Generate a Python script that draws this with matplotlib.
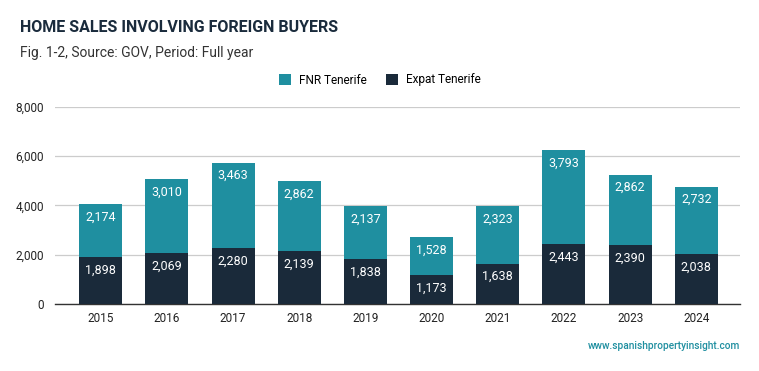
import matplotlib
matplotlib.use("Agg")
import matplotlib.pyplot as plt
import numpy as np
from matplotlib import ticker

years = ["2015", "2016", "2017", "2018", "2019", "2020", "2021", "2022", "2023", "2024"]
expat_tenerife = [1898, 2069, 2280, 2139, 1838, 1173, 1638, 2443, 2390, 2038]
fnr_tenerife = [2174, 3010, 3463, 2862, 2137, 1528, 2323, 3793, 2862, 2732]

TEAL = "#1f8fa0"
NAVY = "#1a2a3a"

plt.rcParams["font.family"] = ["Roboto", "DejaVu Sans"]

fig = plt.figure(figsize=(7.59, 3.71), dpi=100)
ax = fig.add_axes([55 / 759, 67 / 371, 685 / 759, 197 / 371])

x = np.arange(len(years))
w = 0.65
b1 = ax.bar(x, expat_tenerife, w, color=NAVY, label="Expat Tenerife", zorder=3)
b2 = ax.bar(x, fnr_tenerife, w, bottom=expat_tenerife, color=TEAL, label="FNR Tenerife", zorder=3)

for vals, bottoms in ((expat_tenerife, [0] * len(x)), (fnr_tenerife, expat_tenerife)):
    for xi, v, b in zip(x, vals, bottoms):
        ax.annotate(f"{v:,}", (xi, b + v), xytext=(0, -9.4), textcoords="offset points",
                    ha="center", va="center", color="white", fontsize=9, zorder=4)

ax.set_xlim(-0.69, 9.66)
ax.set_ylim(0, 8000)
ax.set_yticks(range(0, 8001, 2000))
ax.yaxis.set_major_formatter(ticker.FuncFormatter(lambda v, _: f"{int(v):,}"))
ax.set_xticks(x)
ax.set_xticklabels(years)
ax.grid(axis="y", color="#cccccc", linewidth=0.9, zorder=0)
for s in ("top", "right", "left"):
    ax.spines[s].set_visible(False)
ax.spines["bottom"].set_color("#333333")
ax.spines["bottom"].set_linewidth(1.0)
ax.tick_params(axis="both", length=0, labelsize=8.5, colors="#222222")
ax.tick_params(axis="y", pad=8)
ax.tick_params(axis="x", pad=6)

fig.text(20 / 759, 1 - 28 / 371, "HOME SALES INVOLVING FOREIGN BUYERS", fontsize=11.5, fontweight="bold",
         color="#1a2b3c", va="center")
fig.text(20 / 759, 1 - 53 / 371, "Fig. 1-2, Source: GOV, Period: Full year", fontsize=10,
         color="#333333", va="center")

fig.legend([b2, b1], ["FNR Tenerife", "Expat Tenerife"], loc="center", bbox_to_anchor=(380 / 759, 1 - 80 / 371),
           ncol=2, frameon=False, fontsize=8.5, handlelength=1.0, handleheight=1.0, handletextpad=0.7,
           columnspacing=1.6)

fig.text(740 / 759, 1 - 346 / 371, "www.spanishpropertyinsight.com", fontsize=7.3, color="#1f8fa0",
         fontweight="medium", ha="right", va="center")

fig.savefig("out.png", dpi=100)
